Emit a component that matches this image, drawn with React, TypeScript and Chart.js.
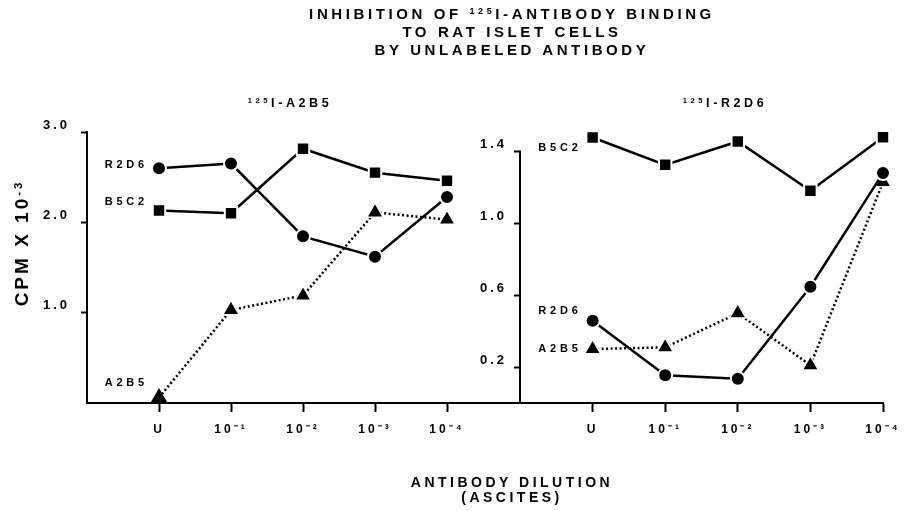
import React, { useEffect, useRef } from "react";
import { Chart, registerables } from "chart.js";

Chart.register(...registerables);

// ---------- data ----------
const dilutions = ["U", "10⁻¹", "10⁻²", "10⁻³", "10⁻⁴"];
const dilutionIndex = [0, 1, 2, 3, 4];

// left panel: 125I-A2B5
const leftR2D6 = [2.6, 2.65, 1.845, 1.62, 2.28];
const leftB5C2 = [2.13, 2.1, 2.815, 2.55, 2.46];
const leftA2B5 = [0.06, 1.03, 1.19, 2.11, 2.03];

// right panel: 125I-R2D6
const rightB5C2 = [1.478, 1.326, 1.456, 1.182, 1.48];
const rightR2D6 = [0.458, 0.154, 0.135, 0.647, 1.28];
const rightA2B5 = [0.3, 0.31, 0.5, 0.21, 1.23];

const leftYTicks = [1.0, 2.0, 3.0];
const rightYTicks = [0.2, 0.6, 1.0, 1.4];

const seriesNames = ["R2D6", "B5C2", "A2B5"];
const leftLabelY = [2.63, 2.22, 0.22];
const rightLabelY = [0.51, 1.42, 0.3];

const FONT = "'Liberation Sans', Arial, Helvetica, sans-serif";

type PanelProps = {
  left: number;
  width: number;
  padTop: number;
  padRight: number;
  yWidth: number;
  yMax: number;
  xMax: number;
  yTicks: number[];
  yPad: number;
  r2d6: number[];
  b5c2: number[];
  a2b5: number[];
  labelY: number[];
  firstTriangleOnAxis?: boolean;
};

const toPts = (arr: number[]) => dilutionIndex.map((x, i) => ({ x, y: arr[i] }));

function Panel(p: PanelProps) {
  const ref = useRef<HTMLCanvasElement | null>(null);
  useEffect(() => {
    if (!ref.current) return;
    const base = {
      borderColor: "#000",
      borderWidth: 2.5,
      pointBackgroundColor: "#000",
      pointBorderColor: "#fff",
      pointBorderWidth: 2,
      tension: 0,
      clip: false as any,
      fill: false,
    };
    const axisTop = p.yTicks[p.yTicks.length - 1];
    const labelPlugin = {
      id: "seriesLabels",
      beforeDraw(chart: any) {
        chart.ctx.letterSpacing = "3px";
      },
      beforeDatasetsDraw(chart: any) {
        const { ctx, scales, chartArea } = chart;
        const y = scales.y;
        ctx.save();
        ctx.strokeStyle = "#000";
        ctx.lineWidth = 2;
        ctx.beginPath();
        ctx.moveTo(chartArea.left, chartArea.bottom + 1);
        ctx.lineTo(chartArea.left, y.getPixelForValue(axisTop) - 1);
        ctx.stroke();
        ctx.restore();
      },
      afterDatasetsDraw(chart: any) {
        const { ctx, scales } = chart;
        const x = scales.x;
        const y = scales.y;
        ctx.save();
        ctx.font = `bold 11px ${FONT}`;
        ctx.letterSpacing = "3.8px";
        ctx.fillStyle = "#000";
        ctx.textAlign = "right";
        ctx.textBaseline = "middle";
        seriesNames.forEach((name, i) => {
          ctx.fillText(name, x.getPixelForValue(0) - 11, y.getPixelForValue(p.labelY[i]));
        });
        ctx.restore();
      },
    };
    const chart = new Chart(ref.current, {
      type: "line",
      data: {
        datasets: [
          {
            ...base,
            label: "R2D6",
            data: toPts(p.r2d6),
            pointStyle: "circle",
            pointRadius: 7,
          },
          {
            ...base,
            label: "B5C2",
            data: toPts(p.b5c2),
            pointStyle: "rect",
            pointRadius: 8.8,
          },
          {
            ...base,
            label: "A2B5",
            data: toPts(p.a2b5),
            pointStyle: "triangle",
            pointRadius: 9.5,
            borderDash: [2, 2.5],
            pointBorderColor: (c: any) =>
              p.firstTriangleOnAxis && c.dataIndex === 0 ? "#000" : "#fff",
            pointBorderWidth: (c: any) => (p.firstTriangleOnAxis && c.dataIndex === 0 ? 0 : 1.5),
          } as any,
        ],
      },
      options: {
        animation: false,
        responsive: false,
        events: [],
        layout: { padding: { top: p.padTop, right: p.padRight, left: 0, bottom: 0 } },
        plugins: { legend: { display: false }, tooltip: { enabled: false } },
        scales: {
          x: {
            type: "linear",
            min: -1,
            max: p.xMax,
            afterBuildTicks: (s: any) => {
              s.ticks = dilutionIndex.map((v) => ({ value: v }));
            },
            afterFit: (s: any) => {
              s.height = 108;
            },
            ticks: {
              callback: (v: any) => dilutions[v as number],
              color: "#000",
              padding: 10,
              maxRotation: 0,
              autoSkip: false,
              font: { family: FONT, size: 12, weight: "bold" },
            },
            grid: { drawOnChartArea: false, tickLength: 9, tickColor: "#000", tickWidth: 2 },
            border: { color: "#000", width: 2 },
          },
          y: {
            type: "linear",
            min: 0,
            max: p.yMax,
            afterBuildTicks: (s: any) => {
              s.ticks = p.yTicks.map((v) => ({ value: v }));
            },
            afterFit: (s: any) => {
              s.width = p.yWidth;
            },
            ticks: {
              callback: (v: any) => Number(v).toFixed(1),
              color: "#000",
              padding: p.yPad,
              labelOffset: -7,
              font: { family: FONT, size: 13, weight: "bold" },
            },
            grid: { drawOnChartArea: false, tickLength: 6, tickColor: "#000", tickWidth: 2 },
            border: { display: false },
          },
        },
      } as any,
      plugins: [labelPlugin],
    });
    return () => chart.destroy();
  }, []);
  return (
    <div style={{ position: "absolute", left: p.left, top: 0, width: p.width, height: 511 }}>
      <canvas ref={ref} width={p.width} height={511} style={{ width: p.width, height: 511 }} />
    </div>
  );
}

const sup: React.CSSProperties = { fontSize: "0.6em", verticalAlign: "0.55em", lineHeight: 0 };

export default function App() {
  return (
    <div
      style={{
        position: "absolute",
        left: 0,
        top: 0,
        width: 905,
        height: 511,
        background: "#fff",
        overflow: "hidden",
        fontFamily: FONT,
        fontWeight: "bold",
        color: "#000",
      }}
    >
      <Panel
        left={0}
        width={530}
        padTop={132}
        padRight={10}
        yWidth={87}
        yMax={3}
        xMax={5}
        yTicks={leftYTicks}
        yPad={11}
        r2d6={leftR2D6}
        b5c2={leftB5C2}
        a2b5={leftA2B5}
        labelY={leftLabelY}
        firstTriangleOnAxis
      />
      <Panel
        left={440}
        width={465}
        padTop={130}
        padRight={22}
        yWidth={80}
        yMax={1.52}
        xMax={4}
        yTicks={rightYTicks}
        yPad={7}
        r2d6={rightR2D6}
        b5c2={rightB5C2}
        a2b5={rightA2B5}
        labelY={rightLabelY}
      />
      <div
        style={{
          position: "absolute",
          left: 212,
          top: 5,
          width: 600,
          textAlign: "center",
          fontSize: 15,
          lineHeight: "18px",
          letterSpacing: "3.6px",
        }}
      >
        <div>
          INHIBITION OF <span style={sup}>125</span>I-ANTIBODY BINDING
        </div>
        <div>TO RAT ISLET CELLS</div>
        <div>BY UNLABELED ANTIBODY</div>
      </div>
      <div
        style={{
          position: "absolute",
          left: 190,
          top: 95,
          width: 200,
          textAlign: "center",
          fontSize: 12.5,
          lineHeight: "16px",
          letterSpacing: "3.6px",
        }}
      >
        <span style={sup}>125</span>I-A2B5
      </div>
      <div
        style={{
          position: "absolute",
          left: 625,
          top: 95,
          width: 200,
          textAlign: "center",
          fontSize: 12.5,
          lineHeight: "16px",
          letterSpacing: "3.6px",
        }}
      >
        <span style={sup}>125</span>I-R2D6
      </div>
      <div
        style={{
          position: "absolute",
          left: 22 - 100,
          top: 243 - 12,
          width: 200,
          height: 24,
          lineHeight: "24px",
          textAlign: "center",
          fontSize: 19,
          letterSpacing: "3px",
          transform: "rotate(-90deg)",
        }}
      >
        CPM X 10<span style={sup}>-3</span>
      </div>
      <div
        style={{
          position: "absolute",
          left: 312,
          top: 475,
          width: 400,
          textAlign: "center",
          fontSize: 14,
          lineHeight: "15px",
          letterSpacing: "3.5px",
        }}
      >
        <div>ANTIBODY DILUTION</div>
        <div>(ASCITES)</div>
      </div>
    </div>
  );
}
